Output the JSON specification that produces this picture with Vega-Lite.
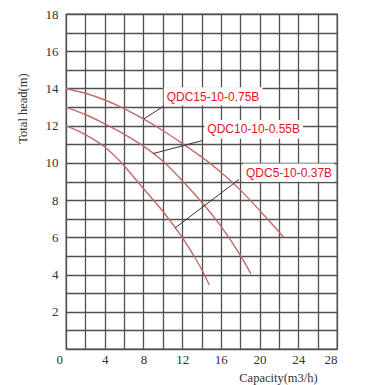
{
  "$schema": "https://vega.github.io/schema/vega-lite/v6.json",
  "autosize": "none",
  "width": 271,
  "height": 335,
  "padding": {"left": 66, "top": 14, "right": 34, "bottom": 36},
  "background": "white",
  "config": {
    "view": {"stroke": "#505050", "strokeWidth": 1.3},
    "axis": {
      "grid": true,
      "gridColor": "#505050",
      "gridWidth": 1.3,
      "gridOpacity": 1,
      "domain": false,
      "ticks": false,
      "labelFont": "Liberation Serif",
      "labelFontSize": 13,
      "labelColor": "#333333",
      "titleFont": "Liberation Serif",
      "titleFontSize": 12.5,
      "titleFontWeight": "normal",
      "titleColor": "#333333"
    }
  },
  "datasets": {
    "curves": [
      {"model": "QDC15-10-0.75B", "q": 0, "h": 14.0},
      {"model": "QDC15-10-0.75B", "q": 2, "h": 13.74},
      {"model": "QDC15-10-0.75B", "q": 4, "h": 13.38},
      {"model": "QDC15-10-0.75B", "q": 6, "h": 12.92},
      {"model": "QDC15-10-0.75B", "q": 8, "h": 12.36},
      {"model": "QDC15-10-0.75B", "q": 10, "h": 11.74},
      {"model": "QDC15-10-0.75B", "q": 12, "h": 11.05},
      {"model": "QDC15-10-0.75B", "q": 14, "h": 10.32},
      {"model": "QDC15-10-0.75B", "q": 16, "h": 9.5},
      {"model": "QDC15-10-0.75B", "q": 18, "h": 8.55},
      {"model": "QDC15-10-0.75B", "q": 20, "h": 7.45},
      {"model": "QDC15-10-0.75B", "q": 22, "h": 6.3},
      {"model": "QDC15-10-0.75B", "q": 22.5, "h": 6.0},
      {"model": "QDC10-10-0.55B", "q": 0, "h": 13.0},
      {"model": "QDC10-10-0.55B", "q": 2, "h": 12.6},
      {"model": "QDC10-10-0.55B", "q": 4, "h": 12.1},
      {"model": "QDC10-10-0.55B", "q": 6, "h": 11.55},
      {"model": "QDC10-10-0.55B", "q": 8, "h": 10.9},
      {"model": "QDC10-10-0.55B", "q": 10, "h": 10.1},
      {"model": "QDC10-10-0.55B", "q": 12, "h": 9.05},
      {"model": "QDC10-10-0.55B", "q": 14, "h": 7.9},
      {"model": "QDC10-10-0.55B", "q": 16, "h": 6.6},
      {"model": "QDC10-10-0.55B", "q": 18, "h": 5.05},
      {"model": "QDC10-10-0.55B", "q": 19.1, "h": 4.05},
      {"model": "QDC5-10-0.37B", "q": 0, "h": 12.0},
      {"model": "QDC5-10-0.37B", "q": 2, "h": 11.52},
      {"model": "QDC5-10-0.37B", "q": 4, "h": 10.85},
      {"model": "QDC5-10-0.37B", "q": 6, "h": 9.85},
      {"model": "QDC5-10-0.37B", "q": 8, "h": 8.62},
      {"model": "QDC5-10-0.37B", "q": 10, "h": 7.4},
      {"model": "QDC5-10-0.37B", "q": 12, "h": 6.0},
      {"model": "QDC5-10-0.37B", "q": 13, "h": 5.18},
      {"model": "QDC5-10-0.37B", "q": 14, "h": 4.3},
      {"model": "QDC5-10-0.37B", "q": 14.8, "h": 3.44}
    ],
    "leaders": [
      {"model": "QDC15-10-0.75B", "q": 8.06, "h": 12.37},
      {"model": "QDC15-10-0.75B", "q": 10.1, "h": 13.05},
      {"model": "QDC10-10-0.55B", "q": 9.0, "h": 10.5},
      {"model": "QDC10-10-0.55B", "q": 14.1, "h": 11.2},
      {"model": "QDC5-10-0.37B", "q": 11.26, "h": 6.5},
      {"model": "QDC5-10-0.37B", "q": 17.85, "h": 9.1}
    ],
    "labels": [
      {"model": "QDC15-10-0.75B", "q": 10.4, "h": 13.56, "q1": 10.1, "q2": 20.3, "h1": 13.08, "h2": 14.06},
      {"model": "QDC10-10-0.55B", "q": 14.6, "h": 11.81, "q1": 14.3, "q2": 24.5, "h1": 11.3, "h2": 12.3},
      {"model": "QDC5-10-0.37B", "q": 18.6, "h": 9.48, "q1": 18.3, "q2": 27.7, "h1": 8.98, "h2": 9.97}
    ]
  },
  "encoding": {
    "x": {
      "field": "q",
      "type": "quantitative",
      "scale": {"domain": [0, 28], "nice": false, "zero": false},
      "axis": {
        "values": [0, 2, 4, 6, 8, 10, 12, 14, 16, 18, 20, 22, 24, 26, 28],
        "labelExpr": "datum.value % 4 === 0 ? datum.label : ''",
        "labelOffset": {"condition": {"test": "datum.value === 0", "value": -10}, "value": 0},
        "labelPadding": 4,
        "title": "Capacity(m3/h)",
        "titleX": 212,
        "titleY": 28,
        "titleAlign": "center",
        "titleBaseline": "middle"
      }
    },
    "y": {
      "field": "h",
      "type": "quantitative",
      "scale": {"domain": [0, 18], "nice": false, "zero": false},
      "axis": {
        "values": [0, 1, 2, 3, 4, 5, 6, 7, 8, 9, 10, 11, 12, 13, 14, 15, 16, 17, 18],
        "labelExpr": "datum.value % 2 === 0 && datum.value > 0 ? datum.label : ''",
        "labelPadding": 8,
        "title": "Total head(m)",
        "titleAngle": -90,
        "titleX": -44,
        "titleY": 94,
        "titleAlign": "center",
        "titleBaseline": "middle"
      }
    }
  },
  "layer": [
    {
      "data": {"name": "curves"},
      "mark": {"type": "line", "color": "#c46a6a", "strokeWidth": 1.4, "interpolate": "natural"},
      "encoding": {"detail": {"field": "model"}}
    },
    {
      "data": {"name": "leaders"},
      "mark": {"type": "line", "color": "#333333", "strokeWidth": 1},
      "encoding": {"detail": {"field": "model"}}
    },
    {
      "data": {"name": "labels"},
      "mark": {"type": "rect", "color": "white"},
      "encoding": {
        "x": {"field": "q1", "type": "quantitative"},
        "x2": {"field": "q2"},
        "y": {"field": "h1", "type": "quantitative"},
        "y2": {"field": "h2"}
      }
    },
    {
      "data": {"name": "labels"},
      "mark": {"type": "text", "align": "left", "baseline": "middle", "font": "Liberation Sans", "fontSize": 12, "color": "#e3141c"},
      "encoding": {"text": {"field": "model"}}
    }
  ]
}
